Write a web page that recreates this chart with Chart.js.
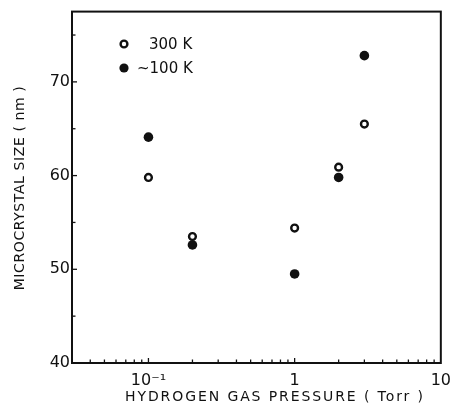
<!DOCTYPE html>
<html>
<head>
<meta charset="utf-8">
<script src="https://cdn.jsdelivr.net/npm/chart.js@4"></script>
<style>
html,body{margin:0;padding:0;background:#fff;}
#wrap{width:459px;height:412px;position:relative;}
</style>
</head>
<body>
<div id="wrap"><canvas id="c" width="459" height="412"></canvas></div>
<script>
const pressures = [0.1, 0.2, 1, 2, 3];
const size300K = [59.8, 53.5, 54.4, 60.9, 65.5];
const size100K = [64.1, 52.6, 49.5, 59.8, 72.8];
const seriesLabels = ['300 K', '~100 K'];
const xTickValues = [0.1, 1, 10];
const xTickLabels = ['10\u207B\u00B9', '1', '10'];
const yTickValues = [40, 50, 60, 70];
const xTitle = 'HYDROGEN GAS PRESSURE ( Torr )';
const yTitle = 'MICROCRYSTAL SIZE ( nm )';

const FONT = '"DejaVu Sans", "Liberation Sans", Arial, sans-serif';
const INK = '#111';

const decorPlugin = {
  id: 'decor',
  afterDraw(chart) {
    const ctx = chart.ctx;
    const xs = chart.scales.x, ys = chart.scales.y;
    const a = chart.chartArea;
    ctx.save();
    ctx.strokeStyle = INK;
    ctx.lineWidth = 2;
    ctx.strokeRect(a.left, a.top, a.right - a.left, a.bottom - a.top);
    // x minor/major ticks (inward from bottom)
    ctx.lineWidth = 1.3;
    for (let d = -2; d <= 0; d++) {
      for (let m = 1; m <= 9; m++) {
        const v = m * Math.pow(10, d);
        if (v < xs.min - 1e-9 || v > xs.max + 1e-9) continue;
        const px = xs.getPixelForValue(v);
        const len = (m === 1) ? 5 : 3.5;
        ctx.beginPath();
        ctx.moveTo(px, a.bottom);
        ctx.lineTo(px, a.bottom - len);
        ctx.stroke();
      }
    }
    // y ticks (inward from left)
    for (let v = 45; v <= 75; v += 5) {
      const py = ys.getPixelForValue(v);
      ctx.beginPath();
      ctx.moveTo(a.left, py);
      ctx.lineTo(a.left + (v % 10 === 0 ? 5 : 3.5), py);
      ctx.stroke();
    }
    // titles
    ctx.fillStyle = INK;
    ctx.font = '14px ' + FONT;
    ctx.textAlign = 'center';
    ctx.textBaseline = 'middle';
    ctx.letterSpacing = '1.9px';
    ctx.fillText(xTitle, 275, 397);
    ctx.letterSpacing = '0.6px';
    ctx.save();
    ctx.translate(20, 188);
    ctx.rotate(-Math.PI / 2);
    ctx.fillText(yTitle, 0, 0);
    ctx.restore();
    ctx.letterSpacing = '0px';
    // legend
    const ds = chart.data.datasets;
    const lx = 124;
    const ly = [44, 68];
    ds.forEach((d, i) => {
      ctx.beginPath();
      ctx.arc(lx, ly[i], i === 0 ? 3.4 : 4.6, 0, Math.PI * 2);
      if (i === 0) {
        ctx.fillStyle = '#fff';
        ctx.fill();
        ctx.lineWidth = 2.4;
        ctx.strokeStyle = INK;
        ctx.stroke();
      } else {
        ctx.fillStyle = INK;
        ctx.fill();
      }
      ctx.fillStyle = INK;
      ctx.textAlign = 'left';
      ctx.font = '15px ' + FONT;
      ctx.fillText(d.label, i === 0 ? 149 : 137, ly[i] + 1);
    });
    ctx.restore();
  }
};

new Chart(document.getElementById('c'), {
  type: 'scatter',
  data: {
    datasets: [
      {
        label: seriesLabels[0],
        data: pressures.map((p, i) => ({x: p, y: size300K[i]})),
        pointRadius: 3.4,
        pointBorderWidth: 2.4,
        pointBackgroundColor: '#fff',
        pointBorderColor: INK,
        pointHoverRadius: 3.4
      },
      {
        label: seriesLabels[1],
        data: pressures.map((p, i) => ({x: p, y: size100K[i]})),
        pointRadius: 4.8,
        pointBorderWidth: 0,
        pointBackgroundColor: INK,
        pointBorderColor: INK,
        pointHoverRadius: 4.8
      }
    ]
  },
  options: {
    responsive: false,
    animation: false,
    devicePixelRatio: 1,
    layout: {padding: {top: 9, right: 10, left: 0, bottom: 0}},
    plugins: {legend: {display: false}, tooltip: {enabled: false}},
    scales: {
      x: {
        type: 'logarithmic',
        min: 0.03,
        max: 10,
        grid: {display: false, drawTicks: false},
        border: {display: false},
        afterBuildTicks(s) { s.ticks = xTickValues.map(v => ({value: v})); },
        afterFit(s) { s.height = 49; },
        ticks: {
          color: INK,
          font: {size: 16, family: FONT},
          padding: 8,
          autoSkip: false,
          maxRotation: 0,
          callback(v) { const i = xTickValues.indexOf(v); return i >= 0 ? xTickLabels[i] : ''; }
        }
      },
      y: {
        min: 40,
        max: 77.5,
        grid: {display: false, drawTicks: false},
        border: {display: false},
        afterBuildTicks(s) { s.ticks = yTickValues.map(v => ({value: v})); },
        afterFit(s) { s.width = 72; },
        ticks: {
          color: INK,
          font: {size: 16, family: FONT},
          padding: 2
        }
      }
    }
  },
  plugins: [decorPlugin]
});
</script>
</body>
</html>
